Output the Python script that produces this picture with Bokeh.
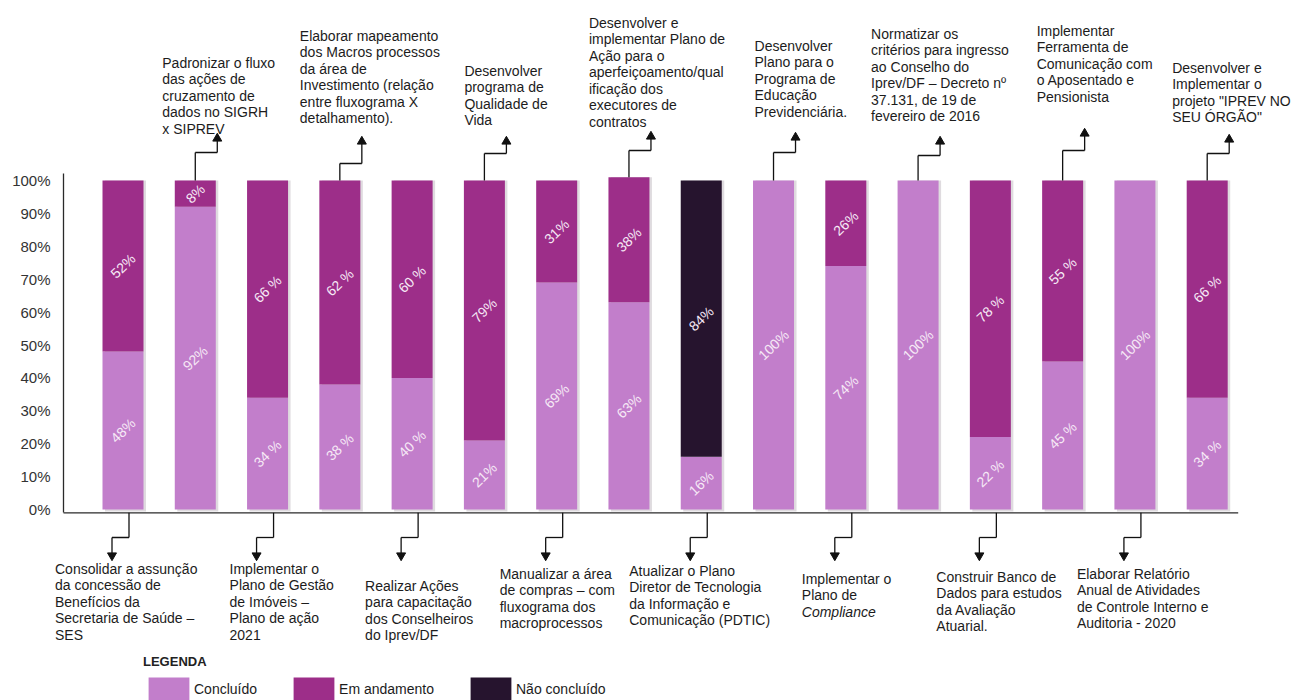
import numpy as np
from bokeh.plotting import figure
from bokeh.models import (Range1d, LinearAxis, FixedTicker, PrintfTickFormatter,
                          ColumnDataSource, Legend, LegendItem, LabelSet)
from bokeh.core.properties import value
from bokeh.embed import file_html
from bokeh.resources import INLINE

# ---------------- data ----------------
acoes = [
    "Consolidar a assunção\nda concessão de\nBenefícios da\nSecretaria de Saúde –\nSES",
    "Padronizar o fluxo\ndas ações de\ncruzamento de\ndados no SIGRH\nx SIPREV",
    "Implementar o\nPlano de Gestão\nde Imóveis –\nPlano de ação\n2021",
    "Elaborar mapeamento\ndos Macros processos\nda área de\nInvestimento (relação\nentre fluxograma X\ndetalhamento).",
    "Realizar Ações\npara capacitação\ndos Conselheiros\ndo Iprev/DF",
    "Desenvolver\nprograma de\nQualidade de\nVida",
    "Manualizar a área\nde compras – com\nfluxograma dos\nmacroprocessos",
    "Desenvolver e\nimplementar Plano de\nAção para o\naperfeiçoamento/qual\nificação dos\nexecutores de\ncontratos",
    "Atualizar o Plano\nDiretor de Tecnologia\nda Informação e\nComunicação (PDTIC)",
    "Desenvolver\nPlano para o\nPrograma de\nEducação\nPrevidenciária.",
    "Implementar o\nPlano de\n*Compliance*",
    "Normatizar os\ncritérios para ingresso\nao Conselho do\nIprev/DF – Decreto nº\n37.131, de 19 de\nfevereiro de 2016",
    "Construir Banco de\nDados para estudos\nda Avaliação\nAtuarial.",
    "Implementar\nFerramenta de\nComunicação com\no Aposentado e\nPensionista",
    "Elaborar Relatório\nAnual de Atividades\nde Controle Interno e\nAuditoria - 2020",
    "Desenvolver e\nImplementar o\nprojeto \"IPREV NO\nSEU ÓRGÃO\"",
]
concluido     = [48, 92, 34, 38, 40, 21, 69, 63, 16, 100, 74, 100, 22, 45, 100, 34]
em_andamento  = [52, 8, 66, 62, 60, 79, 31, 38, 0, 0, 26, 0, 78, 55, 0, 66]
nao_concluido = [0, 0, 0, 0, 0, 0, 0, 0, 84, 0, 0, 0, 0, 0, 0, 0]
rotulo_concluido = ["48%", "92%", "34 %", "38 %", "40 %", "21%", "69%", "63%",
                    "16%", "100%", "74%", "100%", "22 %", "45 %", "100%", "34 %"]
rotulo_andamento = ["52%", "8%", "66 %", "62 %", "60 %", "79%", "31%", "38%",
                    "", "", "26%", "", "78 %", "55 %", "", "66 %"]
rotulo_nao_concluido = ["", "", "", "", "", "", "", "", "84%", "", "", "", "", "", "", ""]
y_ticks = [0, 10, 20, 30, 40, 50, 60, 70, 80, 90, 100]
legenda_titulo = "LEGENDA"
legenda_itens = ["Concluído", "Em andamento", "Não concluído"]

# ---------------- style / layout ----------------
W, H = 1298, 700
AXIS_PX = 63
C_CONC = "#c27ecb"
C_AND = "#9d2e89"
C_NAO = "#26142e"
C_TXT = "#1c1c1c"
FONT = "Liberation Sans"

X0_PX, STEP_PX = 122.5, 72.28     # first bar centre / bar pitch (px)
Y0_PX, PX_PER_PCT = 509.0, 3.29   # baseline row / px per 1 %
LINE_H = 16.5                      # annotation line spacing (px)

x_start = -X0_PX / STEP_PX
x_end = (W - X0_PX) / STEP_PX
x_axis_pos = (AXIS_PX - X0_PX) / STEP_PX
y_end = Y0_PX / PX_PER_PCT
y_start = -(H - Y0_PX) / PX_PER_PCT


def sx(px):
    return px / STEP_PX


def ypx(py):
    return (Y0_PX - py) / PX_PER_PCT


# annotation layout: (elbow row, arrow tip row, text x offset, first text row)
top_layout = {1: (152, 134, -33, 62), 3: (163, 137, -40, 35), 5: (153, 137, -20, 70),
              7: (150, 132, -40, 22), 9: (152, 133, -19, 45), 11: (155, 137, -47, 33),
              13: (150, 129, -26, 30), 15: (153, 135, -35, 67)}
bot_layout = {0: (-74, 568), 2: (-44, 568), 4: (-53, 585), 6: (-63, 573),
              8: (-78, 570), 10: (-50, 578), 12: (-60, 576), 14: (-64, 573)}

p = figure(width=W, height=H, x_range=Range1d(x_start, x_end), y_range=Range1d(y_start, y_end),
           x_axis_type=None, y_axis_type=None, toolbar_location=None, output_backend="svg",
           min_border_left=0, min_border_right=0, min_border_top=0, min_border_bottom=0,
           outline_line_color=None, background_fill_color="white", border_fill_color="white")

yaxis = LinearAxis(ticker=FixedTicker(ticks=y_ticks), formatter=PrintfTickFormatter(format="%d%%"),
                   bounds=(-1, 102), fixed_location=x_axis_pos,
                   axis_line_color="#2a2a2a", axis_line_width=1.3,
                   major_tick_line_color=None, minor_tick_line_color=None,
                   major_tick_out=0, major_tick_in=0, minor_tick_out=0,
                   major_label_text_font=FONT, major_label_text_font_size="15px",
                   major_label_text_color="#333333", major_label_standoff=13)
p.add_layout(yaxis, "left")

idx = np.arange(len(acoes))
c = np.array(concluido, dtype=float)
a = np.array(em_andamento, dtype=float)
n = np.array(nao_concluido, dtype=float)
tot = c + a + n
BW = sx(41)

src = ColumnDataSource(dict(x=idx, c=c, ca=c + a, tot=tot, xs=idx + sx(2.5)))

# soft shadow
p.vbar(x="xs", bottom=ypx(511), top="tot", width=BW, source=src,
       fill_color="#6d5a6d", fill_alpha=0.22, line_color=None)
r_conc = p.vbar(x="x", bottom=0, top="c", width=BW, source=src, fill_color=C_CONC, line_color=None)
r_and = p.vbar(x="x", bottom="c", top="ca", width=BW, source=src, fill_color=C_AND, line_color=None)
r_nao = p.vbar(x="x", bottom="ca", top="tot", width=BW, source=src, fill_color=C_NAO, line_color=None)

# rotated value labels
lx, ly, lt = [], [], []
for i in idx:
    for lab, lo, hi in ((rotulo_concluido[i], 0, c[i]), (rotulo_andamento[i], c[i], c[i] + a[i]),
                        (rotulo_nao_concluido[i], c[i] + a[i], tot[i])):
        if lab:
            lx.append(i)
            ly.append((lo + hi) / 2)
            lt.append(lab)
p.text(x=lx, y=ly, text=lt, angle=0.76, text_align="center", text_baseline="middle",
       text_font=value(FONT), text_font_size="14px", text_color="#f6e9f6")

# x baseline
p.segment(x0=x_axis_pos, y0=-1, x1=len(acoes) - 1 + sx(31), y1=-1, line_color="#2a2a2a", line_width=1.3)

# annotations
seg = dict(x0=[], y0=[], x1=[], y1=[])
up = dict(x=[], y=[])
down = dict(x=[], y=[])
tx, ty, tt = [], [], []
ix, iy, it = [], [], []


def add_seg(x0, y0, x1, y1):
    seg["x0"].append(x0); seg["y0"].append(y0); seg["x1"].append(x1); seg["y1"].append(y1)


for i in idx:
    lines = acoes[i].split("\n")
    if i in top_layout:
        elbow, tip, dx, row = top_layout[i]
        xa, xb = i, i + sx(22)
        add_seg(xa, tot[i], xa, ypx(elbow))
        add_seg(xa, ypx(elbow), xb, ypx(elbow))
        add_seg(xb, ypx(elbow), xb, ypx(tip + 5))
        up["x"].append(xb); up["y"].append(ypx(tip + 4))
        x_text = i + sx(dx)
    else:
        dx, row = bot_layout[i]
        xa = i + sx(6)
        xb = xa - sx(17)
        add_seg(xa, -1, xa, ypx(537))
        add_seg(xa, ypx(537), xb, ypx(537))
        add_seg(xb, ypx(537), xb, ypx(553))
        down["x"].append(xb); down["y"].append(ypx(555))
        x_text = xa + sx(dx)
    for k, ln in enumerate(lines):
        yy = ypx(row + k * LINE_H)
        if ln.startswith("*") and ln.endswith("*"):
            ix.append(x_text); iy.append(yy); it.append(ln.strip("*"))
        else:
            tx.append(x_text); ty.append(yy); tt.append(ln)

p.segment(x0="x0", y0="y0", x1="x1", y1="y1", source=ColumnDataSource(seg),
          line_color="#111111", line_width=1.3)
p.scatter(x=up["x"], y=up["y"], marker="triangle", size=9, color="#111111")
p.scatter(x=down["x"], y=down["y"], marker="inverted_triangle", size=9, color="#111111")

p.add_layout(LabelSet(x="x", y="y", text="text", source=ColumnDataSource(dict(x=tx, y=ty, text=tt)),
                      text_align="left", text_baseline="middle", text_font=value(FONT),
                      text_font_size="14px", text_color=C_TXT))
p.add_layout(LabelSet(x="x", y="y", text="text", source=ColumnDataSource(dict(x=ix, y=iy, text=it)),
                      text_align="left", text_baseline="middle", text_font=value(FONT),
                      text_font_size="14px", text_color=C_TXT, text_font_style="italic"))

legend = Legend(items=[LegendItem(label=legenda_itens[0], renderers=[r_conc]),
                       LegendItem(label=legenda_itens[1], renderers=[r_and]),
                       LegendItem(label=legenda_itens[2], renderers=[r_nao])],
                orientation="horizontal", location=(143, -3), title=legenda_titulo,
                title_text_font=FONT, title_text_font_size="13px", title_text_font_style="bold",
                title_text_color="#222222", title_standoff=5,
                label_text_font=FONT, label_text_font_size="14px", label_text_color=C_TXT,
                glyph_width=51, glyph_height=29, label_height=29, label_standoff=0, spacing=31,
                padding=0, margin=0, border_line_color=None, background_fill_alpha=0)
p.add_layout(legend)

open("out.html", "w").write(file_html(p, INLINE))
